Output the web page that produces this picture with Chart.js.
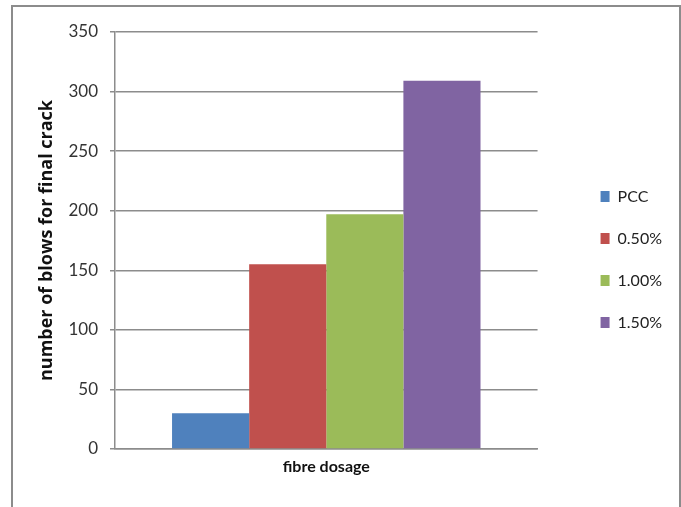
<!DOCTYPE html>
<html>
<head>
<meta charset="utf-8">
<script src="https://cdn.jsdelivr.net/npm/chart.js@4/dist/chart.umd.min.js"></script>
<style>
    html, body { margin: 0; padding: 0; background: #fff; }
    #frame {
        position: absolute; left: 11px; top: 5px; width: 666px; height: 520px;
        border: 2px solid #8c8c8c; border-bottom: none;
    }
    #wrap { position: absolute; left: 0; top: 0; width: 681px; height: 507px; }
</style>
</head>
<body>
<div id="frame"></div>
<div id="wrap"><canvas id="chart" width="681" height="507"></canvas></div>
<script>
// data
const categories = ['fibre dosage'];
const seriesNames = ['PCC', '0.50%', '1.00%', '1.50%'];
const pccValues = [30];
const dose050Values = [155];
const dose100Values = [197];
const dose150Values = [309];
const yTicks = [0, 50, 100, 150, 200, 250, 300, 350];

const colors = ['#4f81bd', '#c0504d', '#9bbb59', '#8064a2'];
const allValues = [pccValues, dose050Values, dose100Values, dose150Values];

const ctx = document.getElementById('chart').getContext('2d');
Chart.defaults.font.family = 'Lato, "Open Sans", sans-serif';

const myChart = new Chart(ctx, {
    type: 'bar',
    data: {
        labels: categories,
        datasets: seriesNames.map((name, i) => ({
            label: name,
            data: allValues[i],
            backgroundColor: colors[i],
            borderWidth: 0,
            categoryPercentage: 0.73,
            barPercentage: 1.0
        }))
    },
    options: {
        responsive: false,
        animation: false,
        layout: { padding: { top: 32, bottom: 20, left: 0, right: 9 } },
        plugins: {
            tooltip: { enabled: false },
            legend: {
                position: 'right',
                labels: {
                    boxWidth: 9,
                    boxHeight: 11,
                    padding: 26,
                    color: '#222',
                    font: { size: 16 }
                }
            }
        },
        scales: {
            x: {
                grid: { display: false, drawTicks: false },
                border: { color: '#8c8c8c', width: 1.5 },
                ticks: { color: '#111', padding: 8, font: { size: 16, weight: 'bold' } },
                afterFit: function (scale) { scale.height = 38; }
            },
            y: {
                min: 0,
                max: 350,
                afterBuildTicks: function (scale) {
                    scale.ticks = yTicks.map(v => ({ value: v }));
                },
                grid: { color: '#8c8c8c', lineWidth: 1.5, tickLength: 5 },
                border: { color: '#8c8c8c', width: 1.5 },
                ticks: { color: '#333', padding: 12, font: { size: 17 } },
                title: {
                    display: true,
                    text: 'number of blows for final crack',
                    color: '#111',
                    padding: { top: 36, bottom: 0 },
                    font: { family: '"Open Sans", sans-serif', size: 18, weight: 'bold' }
                },
                afterFit: function (scale) { scale.width = 115; }
            },
            // spacer between plot and legend
            yGap: {
                position: 'right',
                grid: { display: false },
                border: { display: false },
                ticks: { display: false },
                afterFit: function (scale) { scale.width = 37; }
            }
        }
    }
});
</script>
</body>
</html>
